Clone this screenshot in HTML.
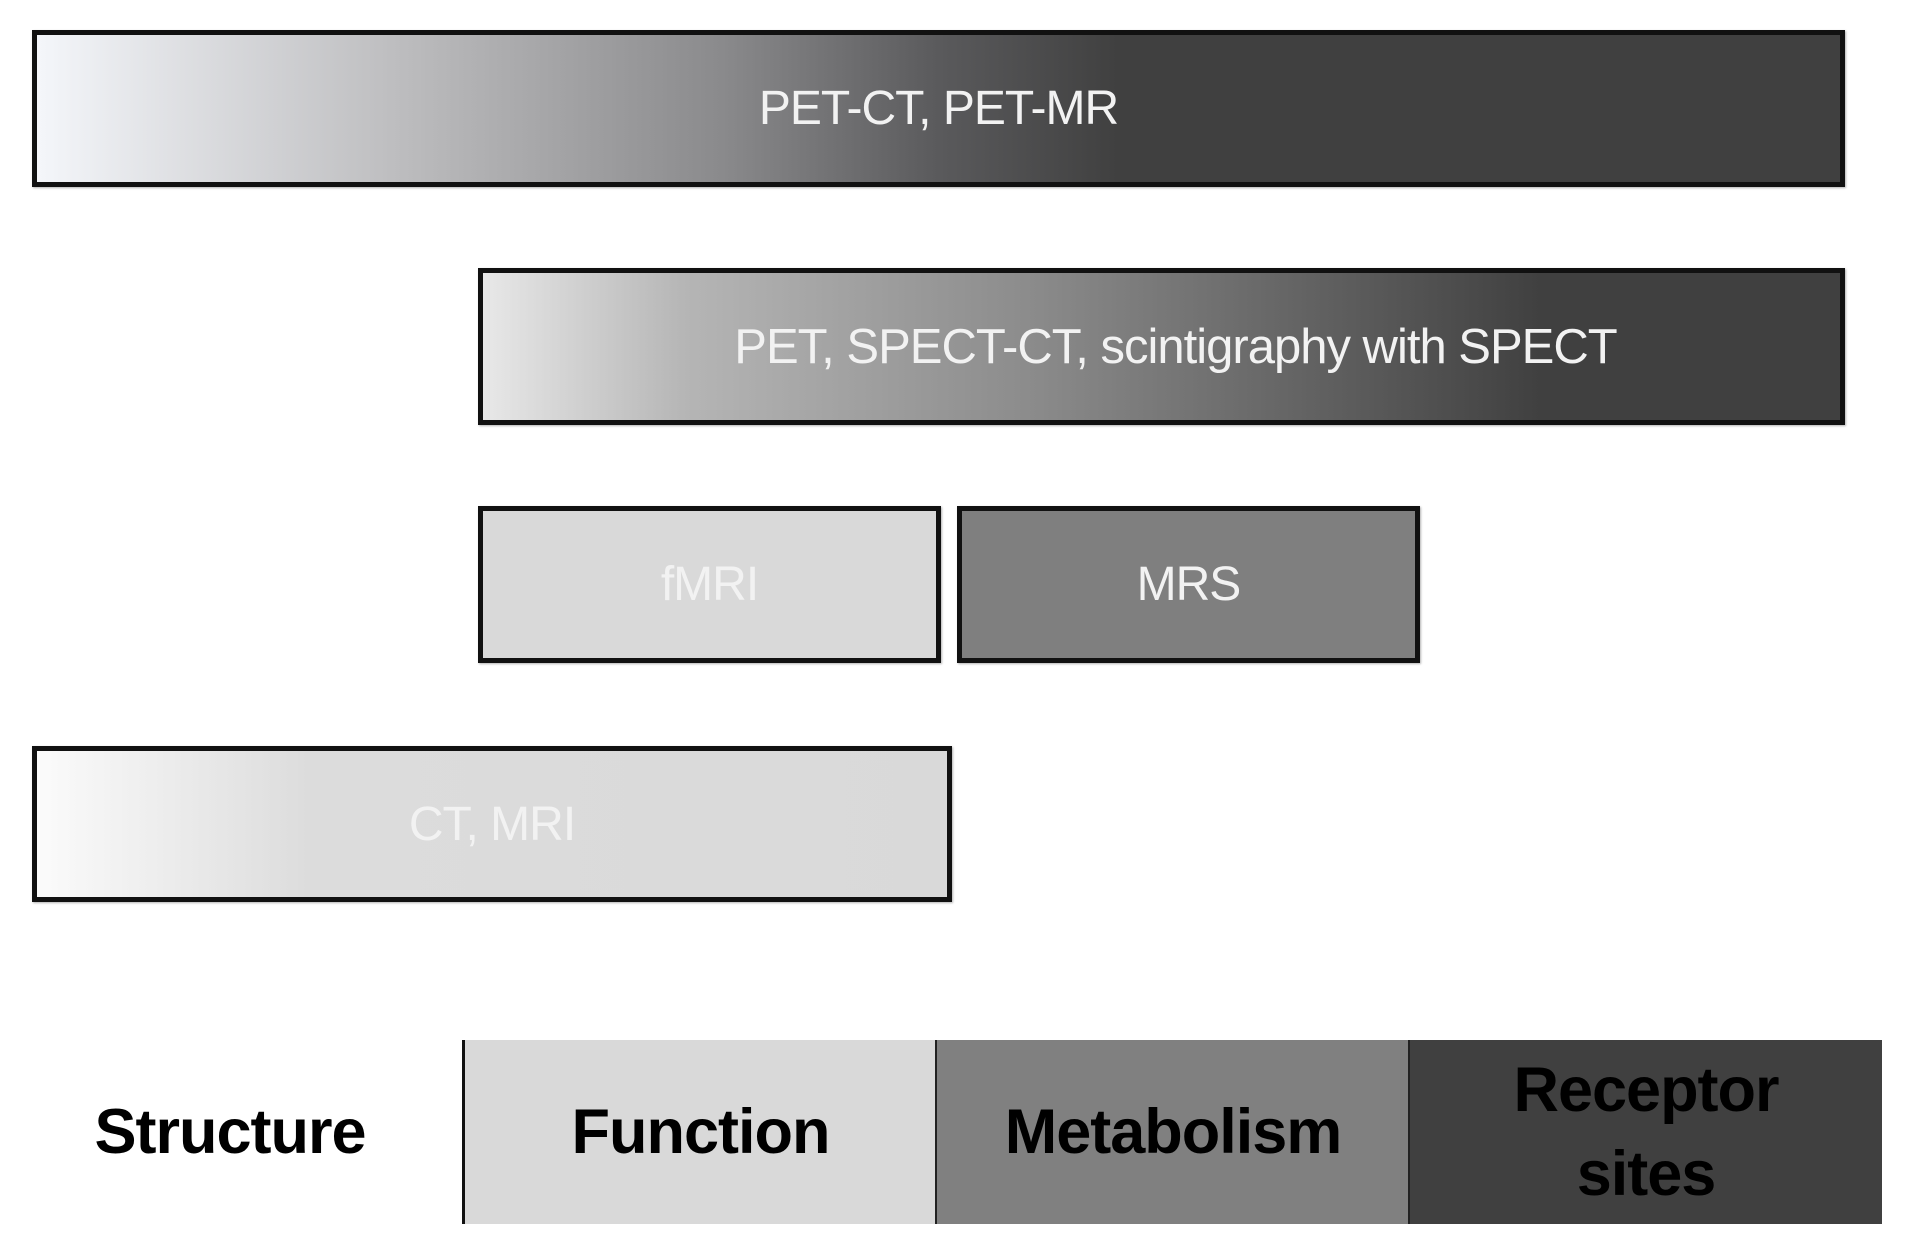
<!DOCTYPE html>
<html><head><style>
body{margin:0;width:1906px;height:1258px;background:#fff;position:relative;overflow:hidden;font-family:"Liberation Sans",sans-serif}
.b{position:absolute;box-sizing:border-box;border:5px solid #111;display:flex;align-items:center;justify-content:center;color:#f2f2f2;font-size:48px;letter-spacing:-1px;box-shadow:1px 1px 2px rgba(0,0,0,.3)}
.c{position:absolute;top:1040px;height:184px;display:flex;align-items:center;justify-content:center;text-align:center;font-weight:bold;font-size:63px;line-height:84px;color:#000;letter-spacing:-1px}
</style></head><body>
<div class="b" style="left:32px;top:30px;width:1813px;height:157px;background:linear-gradient(90deg,#f4f6fa 0%,#bdbdbf 20%,#8a8a8c 38%,#5a5a5c 50%,#404040 60%,#404040 100%)"><span>PET-CT, PET-MR</span></div>
<div class="b" style="left:478px;top:268px;width:1367px;height:157px;background:linear-gradient(90deg,#e8e8e8 0%,#b5b5b5 15%,#8c8c8c 40%,#606060 62%,#404040 78%,#404040 100%)"><span style="position:relative;left:14px;font-size:49px">PET, SPECT-CT, scintigraphy with SPECT</span></div>
<div class="b" style="left:478px;top:506px;width:463px;height:157px;background:#d9d9d9">fMRI</div>
<div class="b" style="left:957px;top:506px;width:463px;height:157px;background:#7f7f7f">MRS</div>
<div class="b" style="left:32px;top:746px;width:920px;height:156px;background:linear-gradient(90deg,#fbfbfb 0%,#dcdcdc 30%,#d9d9d9 100%)"><span>CT, MRI</span></div>
<div class="c" style="left:40px;width:380px">Structure</div>
<div style="position:absolute;left:462px;top:1040px;width:3px;height:184px;background:#111"></div>
<div class="c" style="left:465px;width:471px;background:#d9d9d9">Function</div>
<div style="position:absolute;left:935px;top:1040px;width:2px;height:184px;background:#222"></div>
<div class="c" style="left:937px;width:472px;background:#808080">Metabolism</div>
<div style="position:absolute;left:1408px;top:1040px;width:2px;height:184px;background:#222"></div>
<div class="c" style="left:1410px;width:472px;background:#404040">Receptor<br>sites</div>
</body></html>
